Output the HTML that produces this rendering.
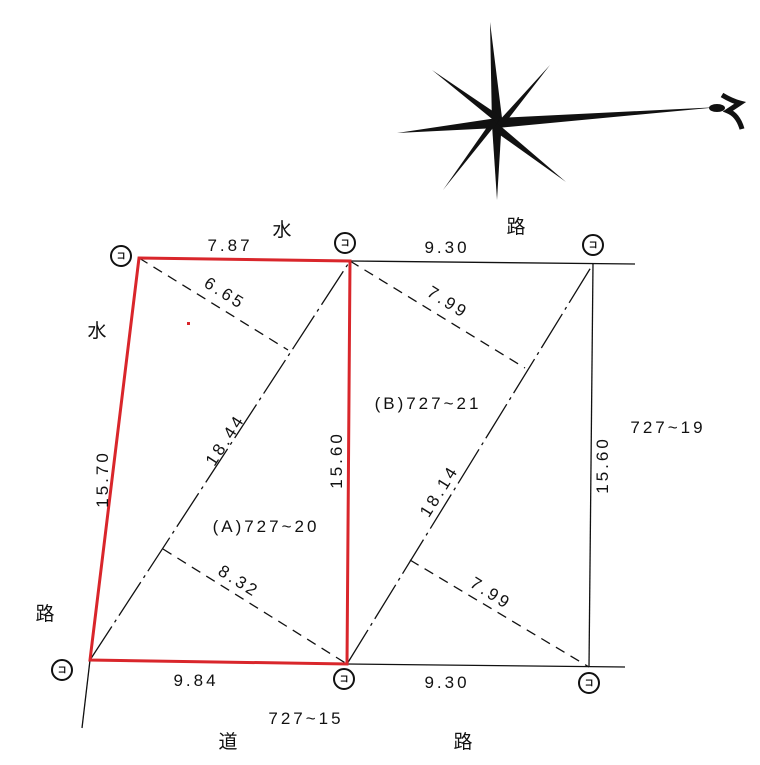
<!DOCTYPE html><html><head><style>body{margin:0;background:#fff}svg{display:block}text{font-family:"Liberation Sans","Noto Sans CJK JP",sans-serif;fill:#111}</style></head><body>
<svg width="760" height="765" viewBox="0 0 760 765" xmlns="http://www.w3.org/2000/svg">
<g stroke="#111" stroke-width="1.3" fill="none">
<line x1="350" y1="261" x2="635" y2="264"/>
<line x1="347" y1="664" x2="625" y2="667"/>
<line x1="593" y1="264" x2="589" y2="667"/>
<line x1="90" y1="660" x2="82" y2="728"/>
<line x1="90" y1="660" x2="350" y2="261" stroke-dasharray="40,5,3,5"/>
<line x1="347" y1="664" x2="593" y2="264" stroke-dasharray="40,5,3,5"/>
<g stroke-dasharray="10,7">
<line x1="139" y1="258" x2="288" y2="350"/>
<line x1="350" y1="261" x2="525" y2="368"/>
<line x1="163" y1="549" x2="347" y2="664"/>
<line x1="410" y1="560" x2="589" y2="667"/>
</g>
<g stroke-width="2">
<circle cx="121" cy="256" r="10"/><circle cx="345" cy="243" r="10"/><circle cx="593" cy="245" r="10"/>
<circle cx="62" cy="670" r="10"/><circle cx="344" cy="679" r="10"/><circle cx="589" cy="683" r="10"/>
</g>
</g>
<polygon points="139,258 350,261 347,664 90,660" fill="none" stroke="#d9262b" stroke-width="3"/>
<rect x="187" y="322" width="3" height="3" fill="#d9262b"/>
<g font-size="9" text-anchor="middle" font-weight="bold"><text x="121" y="259">コ</text><text x="345" y="246">コ</text><text x="593" y="248">コ</text><text x="62" y="673">コ</text><text x="344" y="682">コ</text><text x="589" y="686">コ</text></g>
<g font-size="17" text-anchor="middle" letter-spacing="3">
<text x="230" y="251">7.87</text><text x="447" y="253">9.30</text>
<text x="196" y="686">9.84</text><text x="447" y="688">9.30</text>
<text x="306" y="724">727~15</text><text x="266" y="532">(A)727~20</text>
<text x="428" y="409">(B)727~21</text><text x="668" y="433">727~19</text>
<text transform="translate(222,298) rotate(32)">6.65</text>
<text transform="translate(445,307) rotate(32)">7.99</text>
<text transform="translate(236,586) rotate(32)">8.32</text>
<text transform="translate(488,598) rotate(32)">7.99</text>
<text transform="translate(230,443) rotate(-57)">18.44</text>
<text transform="translate(444,494) rotate(-58)">18.14</text>
<text transform="translate(108,479) rotate(-90)">15.70</text>
<text transform="translate(342,460) rotate(-90)">15.60</text>
<text transform="translate(608,465) rotate(-90)">15.60</text>
</g>
<g font-size="19" text-anchor="middle">
<text x="282" y="236">水</text><text x="97" y="337">水</text><text x="516" y="233">路</text>
<text x="45" y="620">路</text><text x="228" y="748">道</text><text x="463" y="748">路</text>
</g>
<g fill="#111">
<polygon points="490,22 502,118 497,200 492,125"/>
<polygon points="397,133 497,118 720,107 497,128"/>
<polygon points="432,70 497,123 500,116"/>
<polygon points="566,182 497,123 493,130"/>
<polygon points="550,65 497,123 502,127"/>
<polygon points="443,190 497,123 492,120"/>
<ellipse cx="717" cy="108" rx="8" ry="4"/>
<path d="M722,95 q10,6 18,8 l-12,8 q10,4 14,18" stroke="#111" stroke-width="5" fill="none"/>
</g>
</svg></body></html>
